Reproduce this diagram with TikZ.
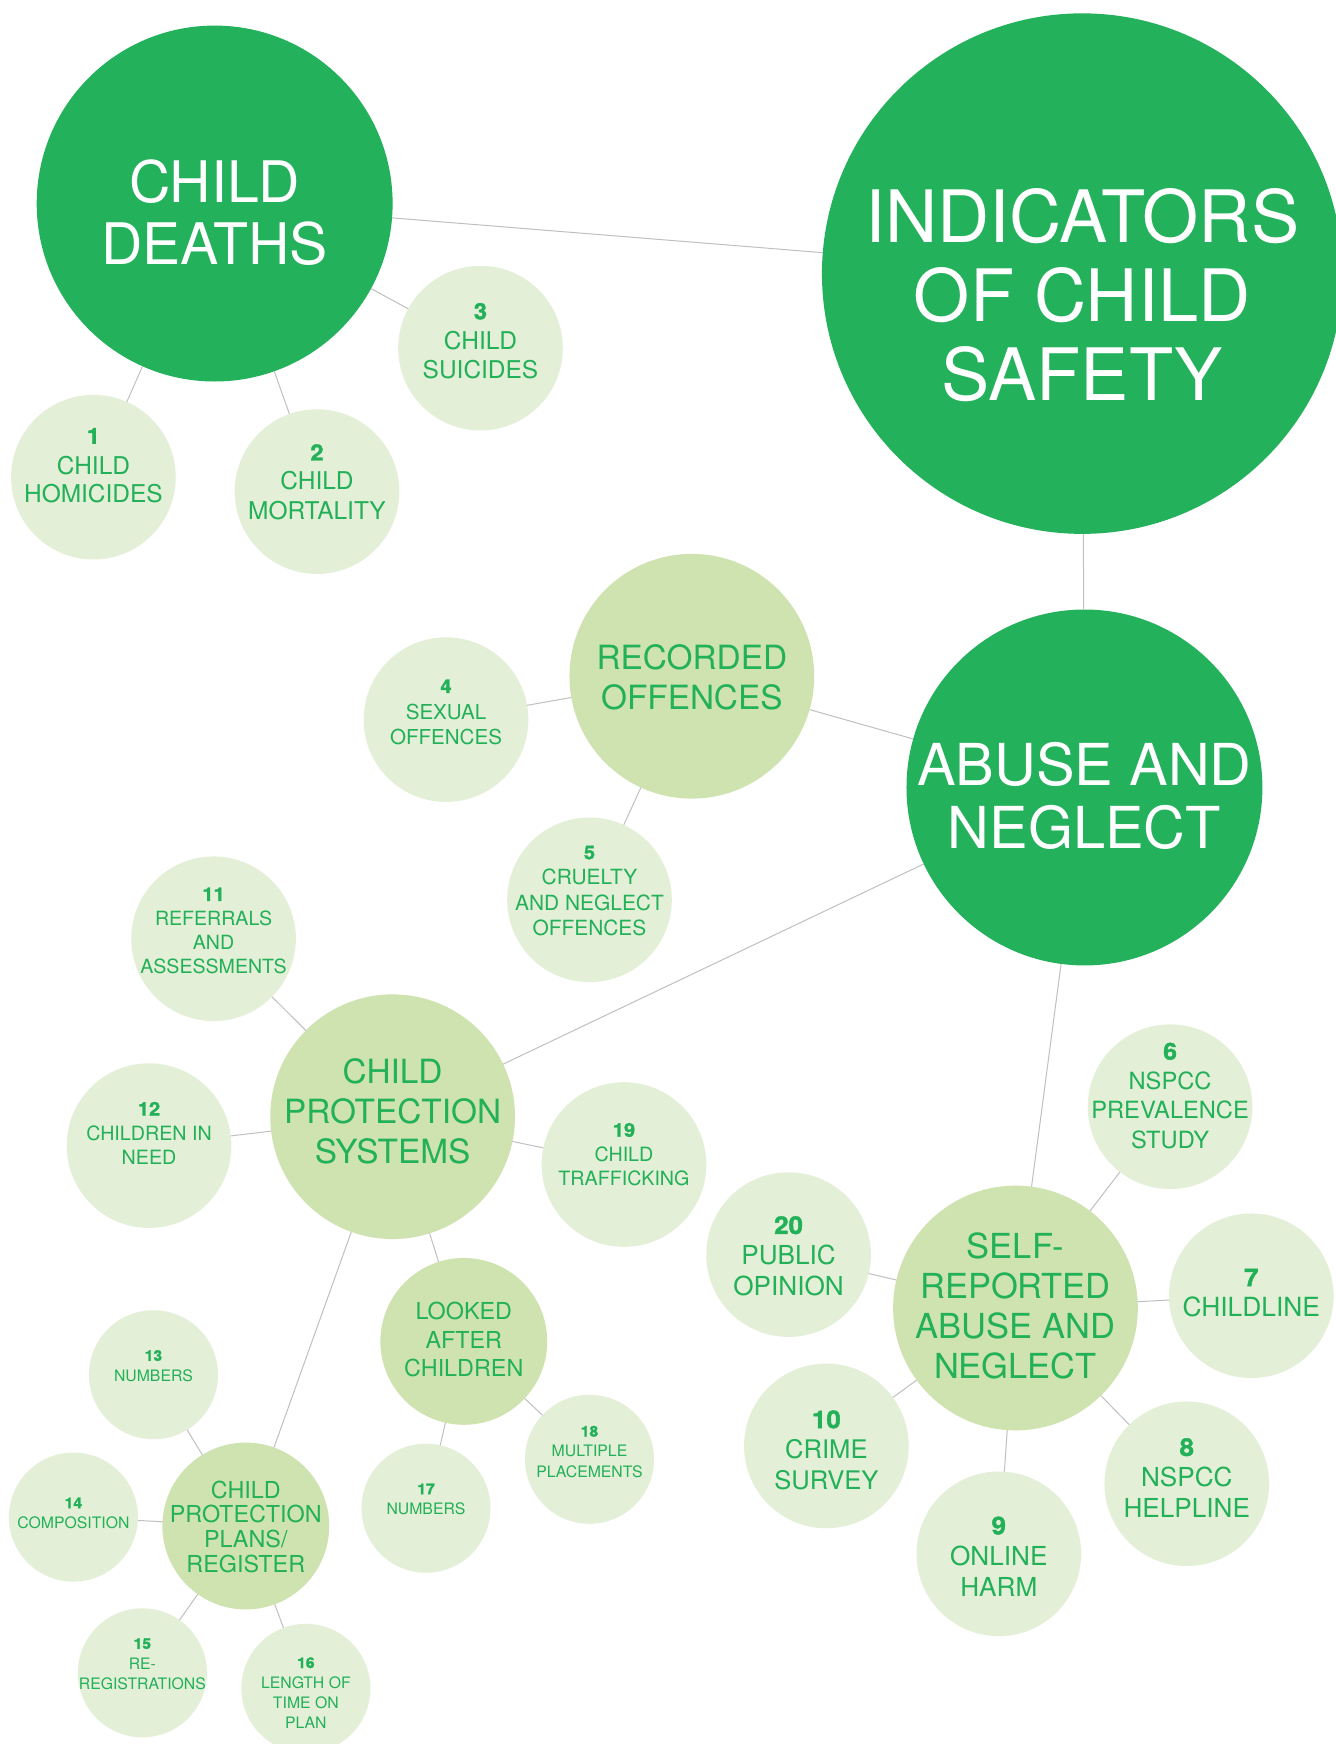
\documentclass[tikz,border=0pt]{standalone}
\usepackage{fontspec}
\setmainfont{TeX Gyre Heros}
\newfontfamily\numfont[BoldFeatures={FakeBold=1.6,FakeStretch=1.06}]{TeX Gyre Heros}
\definecolor{dk}{RGB}{35,177,92}
\definecolor{md}{RGB}{207,227,176}
\definecolor{lt}{RGB}{227,239,214}
\definecolor{tx}{RGB}{34,176,88}
\definecolor{ln}{RGB}{192,192,192}
\newcommand\fs[2]{\fontsize{#1}{#2}\selectfont}
\newcommand\stk[1]{\begin{tabular}[t]{@{}c@{}}#1\end{tabular}}
\newcommand\nb[2]{{\fontsize{#1}{#1}\selectfont\numfont\bfseries #2}}
\begin{document}
\begin{tikzpicture}[x=1pt,y=-1pt,
  bub/.style={circle, inner sep=0pt, outer sep=0pt, minimum size=#1},
  big/.style={bub=#1, fill=dk},
  mid/.style={bub=#1, fill=md},
  sml/.style={bub=#1, fill=lt},
  txt/.style={anchor=base, inner sep=0pt, text=tx},
  wtxt/.style={anchor=base, inner sep=0pt, text=white},
  link/.style={draw=ln, line width=0.9pt}]
\fill[white] (0,0) rectangle (1201,1568);
\useasboundingbox (0,0) rectangle (1201,1568);

% main topics
\node[big=320pt] (cd)  at (193,183)  {};
\node[big=468pt] (ind) at (973,246)  {};
\node[big=320pt] (an)  at (975,708)  {};
% sub-topics
\node[mid=220pt] (ro)  at (622,608)  {};
\node[mid=220pt] (cps) at (353,1004) {};
\node[mid=220pt] (sr)  at (913,1176) {};
\node[mid=150pt] (lac) at (417,1206) {};
\node[mid=150pt] (cpp) at (221,1372) {};
% numbered indicators
\node[sml=148pt] (n1)  at (84,429)   {};
\node[sml=148pt] (n2)  at (285,442)  {};
\node[sml=148pt] (n3)  at (432,313)  {};
\node[sml=148pt] (n4)  at (401,647)  {};
\node[sml=148pt] (n5)  at (530,809)  {};
\node[sml=148pt] (n11) at (192,844)  {};
\node[sml=148pt] (n12) at (134,1030) {};
\node[sml=148pt] (n19) at (561,1047) {};
\node[sml=148pt] (n6)  at (1052,995) {};
\node[sml=148pt] (n20) at (709,1128) {};
\node[sml=148pt] (n7)  at (1125,1165){};
\node[sml=148pt] (n10) at (743,1300) {};
\node[sml=148pt] (n8)  at (1067,1334){};
\node[sml=148pt] (n9)  at (898,1397) {};
\node[sml=116pt] (n13) at (138,1236) {};
\node[sml=116pt] (n18) at (530,1312) {};
\node[sml=116pt] (n14) at (66,1364)  {};
\node[sml=116pt] (n17) at (383,1356) {};
\node[sml=116pt] (n15) at (128,1504) {};
\node[sml=116pt] (n16) at (275,1518) {};

% connectors
\foreach \a/\b in {cd/ind, cd/n1, cd/n2, cd/n3, ind/an, an/ro, an/cps, an/sr,
  ro/n4, ro/n5, cps/n11, cps/n12, cps/n19, cps/lac, cps/cpp,
  sr/n6, sr/n7, sr/n8, sr/n9, sr/n10, sr/n20, lac/n17, lac/n18,
  cpp/n13, cpp/n14, cpp/n15, cpp/n16}
  \draw[link] (\a) -- (\b);

% labels of the main topics
\node[wtxt, font=\fs{51.5}{56}] (tcd) at (193,182) {\stk{CHILD\\DEATHS}};
\node[wtxt, font=\fs{65}{71}] (tind) at (973,218) {\stk{INDICATORS\\OF CHILD\\SAFETY}};
\node[wtxt, font=\fs{52}{57}] (tan) at (975,706) {\stk{ABUSE AND\\NEGLECT}};
% labels of the sub-topics
\node[txt, font=\fs{30}{36}] (tro) at (622,602) {\stk{RECORDED\\OFFENCES}};
\node[txt, font=\fs{30}{36}] (tcps) at (353,974) {\stk{CHILD\\PROTECTION\\SYSTEMS}};
\node[txt, font=\fs{31}{36}] (tsr) at (913,1131.5) {\stk{SELF-\\REPORTED\\ABUSE AND\\NEGLECT}};
\node[txt, font=\fs{21}{26}] (tlac) at (417,1186) {\stk{LOOKED\\AFTER\\CHILDREN}};
\node[txt, font=\fs{21}{21.7}] (tcpp) at (221,1347) {\stk{CHILD\\PROTECTION\\PLANS/\\REGISTER}};
% labels of the numbered indicators
\node[txt, font=\fs{22}{25.8}] (t1) at (84,399) {\stk{\nb{20}{1}\\[1.4pt]CHILD\\HOMICIDES}};
\node[txt, font=\fs{22}{26.5}] (t2) at (285,414) {\stk{\nb{20}{2}\\CHILD\\MORTALITY}};
\node[txt, font=\fs{22}{25.8}] (t3) at (432,287) {\stk{\nb{20}{3}\\[1.7pt]CHILD\\SUICIDES}};
\node[txt, font=\fs{18.5}{22}] (t4) at (401,623) {\stk{\nb{17}{4}\\[2.3pt]SEXUAL\\OFFENCES}};
\node[txt, font=\fs{18.8}{23}] (t5) at (530,772.5) {\stk{\nb{17}{5}\\CRUELTY\\AND NEGLECT\\OFFENCES}};
\node[txt, font=\fs{17.6}{21.7}] (t11) at (192,810) {\stk{\nb{17}{11}\\REFERRALS\\AND\\ASSESSMENTS}};
\node[txt, font=\fs{17.7}{21.5}] (t12) at (134,1003) {\stk{\nb{17}{12}\\[1pt]CHILDREN IN\\NEED}};
\node[txt, font=\fs{17.7}{21.5}] (t19) at (561,1022) {\stk{\nb{17}{19}\\[1pt]CHILD\\TRAFFICKING}};
\node[txt, font=\fs{21.3}{26.6}] (t6) at (1052,952.7) {\stk{\nb{21}{6}\\NSPCC\\PREVALENCE\\STUDY}};
\node[txt, font=\fs{23.7}{27}] (t7) at (1125,1156.4) {\stk{\nb{22}{7}\\CHILDLINE}};
\node[txt, font=\fs{23.5}{27.6}] (t20) at (709,1109.4) {\stk{\nb{22}{20}\\PUBLIC\\OPINION}};
\node[txt, font=\fs{23}{27.6}] (t10) at (743,1284) {\stk{\nb{22}{10}\\CRIME\\SURVEY}};
\node[txt, font=\fs{23.5}{27.5}] (t8) at (1067,1309) {\stk{\nb{22}{8}\\NSPCC\\HELPLINE}};
\node[txt, font=\fs{23.5}{28}] (t9) at (898,1379.5) {\stk{\nb{22}{9}\\ONLINE\\HARM}};
\node[txt, font=\fs{14.2}{18.2}] (t13) at (138,1223.5) {\stk{\nb{13.3}{13}\\NUMBERS}};
\node[txt, font=\fs{14.2}{18.2}] (t14) at (66,1356) {\stk{\nb{13.3}{14}\\COMPOSITION}};
\node[txt, font=\fs{14.2}{18.2}] (t17) at (383,1343.4) {\stk{\nb{13.3}{17}\\NUMBERS}};
\node[txt, font=\fs{14.2}{18.2}] (t18) at (530,1291.6) {\stk{\nb{13.3}{18}\\MULTIPLE\\PLACEMENTS}};
\node[txt, font=\fs{14.2}{18.2}] (t15) at (128,1482.4) {\stk{\nb{13.3}{15}\\RE-\\REGISTRATIONS}};
\node[txt, font=\fs{14.2}{18}] (t16) at (275,1499.7) {\stk{\nb{13.3}{16}\\LENGTH OF\\TIME ON\\PLAN}};
\end{tikzpicture}
\end{document}
